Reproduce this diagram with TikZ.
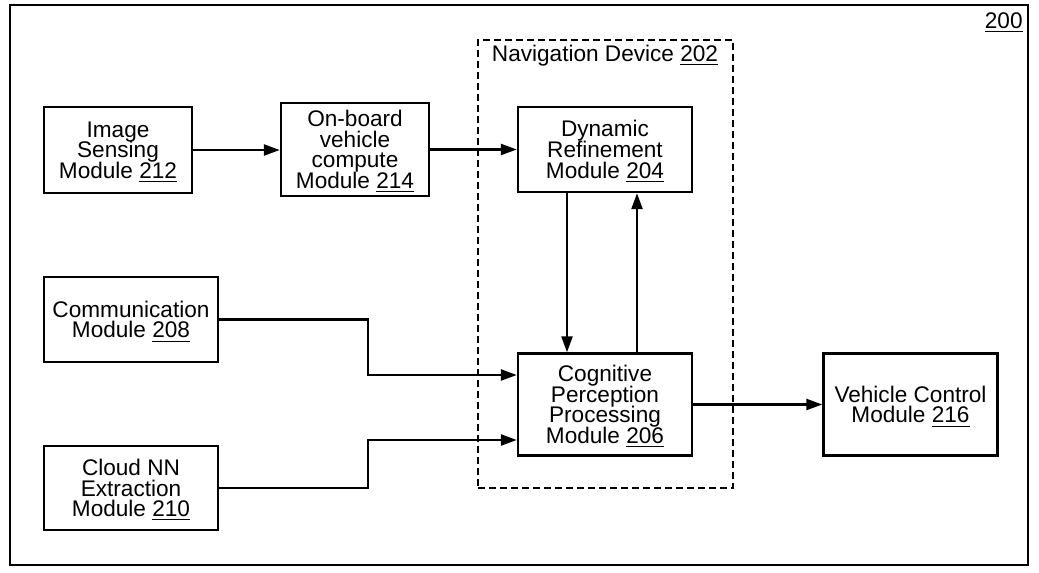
\documentclass[tikz,border=0pt]{standalone}
\usepackage{fontspec}
\setmainfont{Liberation Sans}
\usetikzlibrary{arrows.meta}
\tikzstyle{block} = [align=center,draw=black,line width=1.2pt,rectangle,inner sep=0pt,text centered]
\tikzstyle{navbox} = [draw=black,line width=1.2pt,dash pattern=on 3.5pt off 2pt,rectangle,inner sep=0pt]
\tikzstyle{flow} = [draw=black,line width=1.2pt,-{Triangle[length=8pt,width=5.5pt]}]
\newcommand{\refno}[1]{\smash{\underline{#1}}\vphantom{#1}}
\newcommand{\boxfont}{\fontsize{11.3pt}{10.3pt}\selectfont\lineskiplimit=-10pt\relax}

\begin{document}
\begin{tikzpicture}[x=0.5pt,y=-0.5pt,font=\boxfont]
				\useasboundingbox (0,0) rectangle (1039,573);
				\node (sys) [draw=black,line width=1.2pt,minimum width=509pt,minimum height=280pt,inner sep=0pt] at (519,285) {};
				\node (sysnum) [anchor=north east,inner sep=0pt] at (1023,12) {\refno{200}};
				\node (nav) [navbox,minimum width=127.5pt,minimum height=224pt] at (605.5,264) {};
				\node (navlbl) at (605,56) {Navigation Device \refno{202}};
				\node (img) [block,minimum width=74pt,minimum height=43pt] at (118,150) {Image\\Sensing\\Module \refno{212}};
				\node (obc) [block,minimum width=74pt,minimum height=46.5pt] at (355,149.5) {On-board\\vehicle\\compute\\Module \refno{214}};
				\node (dyn) [block,minimum width=87pt,minimum height=42.5pt] at (605,149.5) {Dynamic\\Refinement\\Module \refno{204}};
				\node (comm) [block,minimum width=87pt,minimum height=42.5pt] at (131,319.5) {Communication\\Module \refno{208}};
				\node (cpp) [block,minimum width=87pt,minimum height=51pt] at (605,404.5) {Cognitive\\Perception\\Processing\\Module \refno{206}};
				\node (cloud) [block,minimum width=87pt,minimum height=42pt] at (131,488) {Cloud NN\\Extraction\\Module \refno{210}};
				\node (vcm) [block,minimum width=87pt,minimum height=51pt] at (910.5,404.5) {Vehicle Control\\Module \refno{216}};
				\coordinate (jcomm) at (368,375);
				\coordinate (jcloud) at (368,440);
				\draw [flow] (img.east) -- (img.east -| obc.west);
				\draw [flow] (obc.east) -- (obc.east -| dyn.west);
				\draw [flow] ([xshift=-19pt]dyn.south) -- ([xshift=-19pt]dyn.south |- cpp.north);
				\draw [flow] ([xshift=16pt]cpp.north) -- ([xshift=16pt]cpp.north |- dyn.south);
				\draw [flow] (comm.east) -| (jcomm) -- (jcomm -| cpp.west);
				\draw [flow] (cloud.east) -| (jcloud) -- (jcloud -| cpp.west);
				\draw [flow] (cpp.east) -- (vcm.west);
			\end{tikzpicture}
\end{document}
